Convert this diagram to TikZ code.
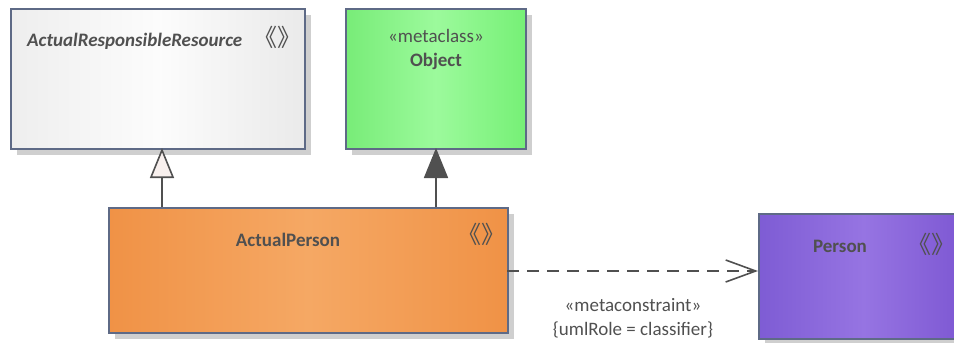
\documentclass[tikz,border=0pt]{standalone}
\usepackage{fontspec}
\setmainfont{Carlito}
\newfontfamily\cjk{Noto Sans CJK SC}
\usetikzlibrary{arrows.meta}
\definecolor{txt}{HTML}{505050}
\definecolor{bord}{HTML}{5E6A86}
\definecolor{shad}{HTML}{CFCFCF}
\definecolor{trifill}{HTML}{F8F0EE}
\tikzset{
  box/.style={draw=bord, line width=1.6pt, inner sep=0pt, anchor=north west,
    preaction={fill=shad, transform canvas={shift={(6pt,-6pt)}}}},
  lbl/.style={text=txt, inner sep=0pt, font=\fontsize{19}{22}\selectfont},
  lblb/.style={text=txt, inner sep=0pt, font=\fontsize{19}{22}\selectfont\bfseries},
  st/.style={text=txt, inner sep=0pt, font=\cjk\fontsize{24}{26}\selectfont},
  conn/.style={draw=txt, line width=1.8pt},
}
\begin{document}
\begin{tikzpicture}[x=1pt,y=-1pt]
\useasboundingbox (0,0) rectangle (954,343);
\node[box, minimum width=294pt, minimum height=140pt, left color={rgb,255:red,238;green,238;blue,238}, right color={rgb,255:red,234;green,234;blue,234}, middle color={rgb,255:red,252;green,252;blue,252}] (arr) at (10,8) {};
\node[box, minimum width=180pt, minimum height=140pt, left color={rgb,255:red,120;green,236;blue,120}, right color={rgb,255:red,118;green,240;blue,118}, middle color={rgb,255:red,156;green,250;blue,156}] (obj) at (345,8) {};
\node[box, minimum width=399pt, minimum height=125pt, left color={rgb,255:red,240;green,146;blue,70}, right color={rgb,255:red,240;green,146;blue,70}, middle color={rgb,255:red,245;green,168;blue,100}] (ap) at (108,207) {};
\node[box, minimum width=210pt, minimum height=125pt, left color={rgb,255:red,126;green,92;blue,212}, right color={rgb,255:red,124;green,86;blue,210}, middle color={rgb,255:red,150;green,116;blue,226}] (per) at (758,213) {};

\node[lbl, anchor=west, font=\fontsize{19}{22}\selectfont\bfseries\itshape] (arrt) at (27,41) {ActualResponsibleResource};
\node[st] (arrs) at (277,37) {《》};
\node[lbl] (objs) at (436,36) {«metaclass»};
\node[lblb] (objt) at (436,61) {Object};
\node[lblb] (apt) at (288,240) {ActualPerson};
\node[st] (aps) at (481,234) {《》};
\node[lblb] (pert) at (840,246) {Person};
\node[st] (pers) at (931,244) {《》};

\coordinate (g1a) at (162,207);
\coordinate (g1b) at (162,148);
\coordinate (g2a) at (436,207);
\coordinate (g2b) at (436,148);
\draw[conn, -{Triangle[length=30pt,width=24pt,fill=trifill,line width=1.6pt]}] (g1a) -- (g1b);
\draw[conn, -{Triangle[length=30pt,width=24pt,fill=txt]}] (g2a) -- (g2b);

\coordinate (d1) at (507,271);
\coordinate (d2) at (758,271);
\draw[conn, line width=1.6pt, dash pattern=on 12pt off 8pt, -{Straight Barb[length=30pt,width=22pt,line width=1.6pt]}] (d1) -- (d2);
\node[lbl] (m1) at (633,305) {«metaconstraint»};
\node[lbl] (m2) at (633,330) {\{umlRole = classifier\}};
\end{tikzpicture}
\end{document}
